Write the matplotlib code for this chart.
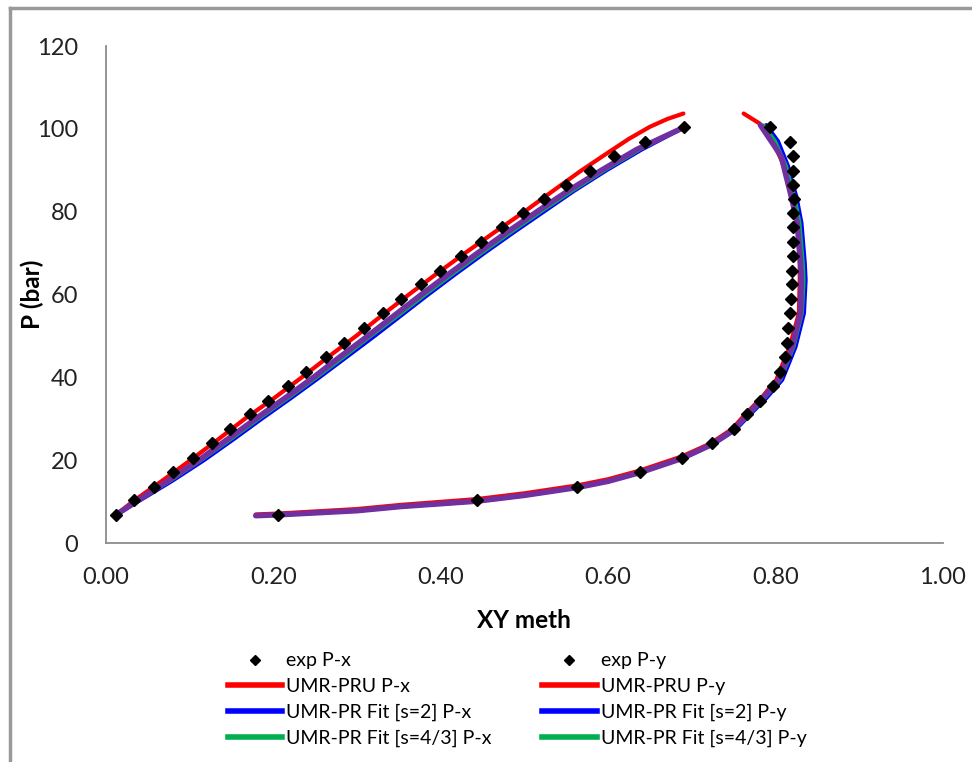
import numpy as np
import matplotlib.pyplot as plt
from matplotlib.lines import Line2D

plt.rcParams['font.family'] = ['Lato', 'DejaVu Sans']

# experimental data (pressure levels shared by both branches)
p_exp = [6.76, 10.31, 13.59, 17.14, 20.59, 24.14, 27.45, 31.07, 34.36, 37.90,
         41.36, 44.83, 48.21, 51.91, 55.46, 58.91, 62.46, 65.74, 69.29, 72.74,
         76.22, 79.60, 83.12, 86.43, 89.88, 93.43, 96.89, 100.36]
x_exp = [0.012, 0.033, 0.057, 0.080, 0.104, 0.127, 0.148, 0.172, 0.194, 0.218,
         0.239, 0.263, 0.285, 0.308, 0.331, 0.353, 0.377, 0.399, 0.424, 0.448,
         0.473, 0.498, 0.523, 0.550, 0.578, 0.607, 0.644, 0.691]
y_exp = [0.205, 0.443, 0.563, 0.638, 0.688, 0.724, 0.751, 0.766, 0.782, 0.797,
         0.805, 0.811, 0.814, 0.815, 0.817, 0.818, 0.820, 0.820, 0.821, 0.821,
         0.821, 0.821, 0.822, 0.821, 0.821, 0.821, 0.817, 0.793]

# model curves, P-x branch
p_px = [6.8, 10, 15, 20, 25, 30, 35, 40, 45, 50, 55, 60, 65, 70, 75, 80, 85, 90, 95, 100.4]
p_px_pru = [6.8, 10, 15, 20, 25, 30, 35, 40, 45, 50, 55, 60, 65, 70, 75, 80, 85,
            89.8, 94.0, 97.6, 100.5, 102.4, 103.7]
x_pru = [0.012, 0.032, 0.067, 0.101, 0.134, 0.166, 0.201, 0.234, 0.266, 0.299, 0.330,
         0.362, 0.395, 0.429, 0.464, 0.500, 0.534, 0.567, 0.598, 0.625, 0.650, 0.671,
         0.690]
x_s2 = [0.012, 0.038, 0.079, 0.117, 0.152, 0.186, 0.221, 0.255, 0.288, 0.321, 0.353,
        0.385, 0.418, 0.452, 0.487, 0.523, 0.559, 0.598, 0.640, 0.691]
x_s43 = [0.012, 0.037, 0.077, 0.114, 0.149, 0.183, 0.218, 0.252, 0.285, 0.317, 0.350,
         0.382, 0.415, 0.449, 0.484, 0.520, 0.557, 0.596, 0.638, 0.691]
x_fit3 = [0.012, 0.036, 0.074, 0.111, 0.145, 0.179, 0.214, 0.248, 0.280, 0.313, 0.345,
          0.377, 0.410, 0.444, 0.479, 0.515, 0.552, 0.592, 0.634, 0.691]

# model curves, P-y branch
y_fit3 = [0.179, 0.205, 0.300, 0.352, 0.443, 0.500, 0.563, 0.600, 0.638, 0.688, 0.724,
          0.750, 0.766, 0.785, 0.804, 0.820, 0.830, 0.831, 0.830, 0.826, 0.819, 0.813,
          0.807, 0.798, 0.782]
p_fit3 = [6.6, 6.8, 7.8, 8.8, 10.1, 11.5, 13.4, 14.9, 17.0, 20.4, 23.8,
          27.3, 30.9, 35.0, 39.4, 47.4, 55.5, 63.5, 67.6, 77.3, 83.6, 88.4,
          93.3, 96.1, 100.9]
y_s2 = [0.179, 0.205, 0.300, 0.352, 0.443, 0.500, 0.563, 0.600, 0.638, 0.688, 0.725,
        0.752, 0.769, 0.789, 0.808, 0.824, 0.834, 0.836, 0.835, 0.831, 0.825, 0.820,
        0.815, 0.803, 0.789]
y_s43 = [0.179, 0.205, 0.300, 0.352, 0.443, 0.500, 0.563, 0.600, 0.638, 0.688, 0.725,
         0.751, 0.768, 0.787, 0.806, 0.822, 0.832, 0.834, 0.833, 0.829, 0.823, 0.818,
         0.813, 0.800, 0.786]
p_fit = [6.6, 6.8, 7.8, 8.8, 10.1, 11.5, 13.4, 14.9, 17.0, 20.4, 23.8,
         27.3, 30.9, 35.0, 39.4, 47.4, 55.5, 63.5, 67.6, 77.3, 83.6, 87.0,
         91.0, 97.0, 100.9]
y_pru = [0.179, 0.205, 0.300, 0.352, 0.443, 0.500, 0.563, 0.600, 0.638, 0.688, 0.722,
         0.748, 0.764, 0.783, 0.801, 0.817, 0.828, 0.829, 0.829, 0.826, 0.818, 0.808,
         0.797, 0.781, 0.762]
p_pru = [6.9, 7.1, 8.2, 9.2, 10.6, 12.0, 13.9, 15.4, 17.5, 20.9, 24.0,
         27.5, 31.1, 35.0, 39.4, 47.4, 55.5, 63.5, 67.6, 77.3, 86.0, 92.0,
         97.0, 101.3, 103.7]

fig = plt.figure(figsize=(9.72, 7.62), dpi=100)
ax = fig.add_axes([0.109, 0.2874, 0.861, 0.6522])

red, blue, green, purple = '#FF0000', '#0000FF', '#00B050', '#7030A0'

ax.plot(x_pru, p_px_pru, color=red, lw=3, solid_capstyle='round')
ax.plot(x_s2, p_px, color=blue, lw=3, solid_capstyle='round')
ax.plot(x_s43, p_px, color=green, lw=2.5, solid_capstyle='round')
ax.plot(x_fit3, p_px, color=purple, lw=4, solid_capstyle='round')
ax.plot(y_pru, p_pru, color=red, lw=3, solid_capstyle='round')
ax.plot(y_s2, p_fit, color=blue, lw=3, solid_capstyle='round')
ax.plot(y_s43, p_fit, color=green, lw=2.5, solid_capstyle='round')
ax.plot(y_fit3, p_fit3, color=purple, lw=4, solid_capstyle='round')
ax.plot(x_exp, p_exp, 'D', color='black', ms=6.5, ls='none')
ax.plot(y_exp, p_exp, 'D', color='black', ms=6.5, ls='none')

ax.set_xlim(0, 1)
ax.set_ylim(0, 120)
ax.set_xticks(np.arange(0, 1.01, 0.2))
ax.set_xticklabels(['%.2f' % v for v in np.arange(0, 1.01, 0.2)])
ax.set_yticks(range(0, 121, 20))
ax.tick_params(length=0, labelsize=17, colors='#222222')
ax.tick_params(axis='x', pad=17)
ax.tick_params(axis='y', pad=20)
for s in ['top', 'right']:
    ax.spines[s].set_visible(False)
for s in ['left', 'bottom']:
    ax.spines[s].set_color('#8c8c8c')
    ax.spines[s].set_linewidth(1.3)
ax.set_xlabel('XY meth', fontsize=17.5, fontweight='bold', va='center')
ax.set_ylabel('P (bar)', fontsize=17.5, fontweight='bold', va='center')
ax.xaxis.set_label_coords(0.5, -0.155)
ax.yaxis.set_label_coords(-0.088, 0.5)

handles = [
    Line2D([], [], marker='D', color='black', ls='none', ms=5),
    Line2D([], [], color=red, lw=4),
    Line2D([], [], color=blue, lw=4),
    Line2D([], [], color=green, lw=4),
    Line2D([], [], marker='D', color='black', ls='none', ms=5),
    Line2D([], [], color=red, lw=4),
    Line2D([], [], color=blue, lw=4),
    Line2D([], [], color=green, lw=4),
]
labels = ['exp P-x', 'UMR-PRU P-x', 'UMR-PR Fit [s=2] P-x', 'UMR-PR Fit [s=4/3] P-x',
          'exp P-y', 'UMR-PRU P-y', 'UMR-PR Fit [s=2] P-y', 'UMR-PR Fit [s=4/3] P-y']
fig.legend(handles, labels, ncol=2, loc='center', bbox_to_anchor=(0.532, 0.082),
           frameon=False, fontsize=14, handlelength=2.8, handletextpad=0.2,
           labelspacing=0.44, columnspacing=2.6, numpoints=1)

# outer chart border (cropped at right and bottom)
fig.add_artist(Line2D([10 / 972, 10 / 972], [0, 754 / 762], color='#999999', lw=2.5,
                      transform=fig.transFigure))
fig.add_artist(Line2D([10 / 972, 1], [754 / 762, 754 / 762], color='#999999', lw=2.5,
                      transform=fig.transFigure))

fig.savefig('out.png', dpi=100)
